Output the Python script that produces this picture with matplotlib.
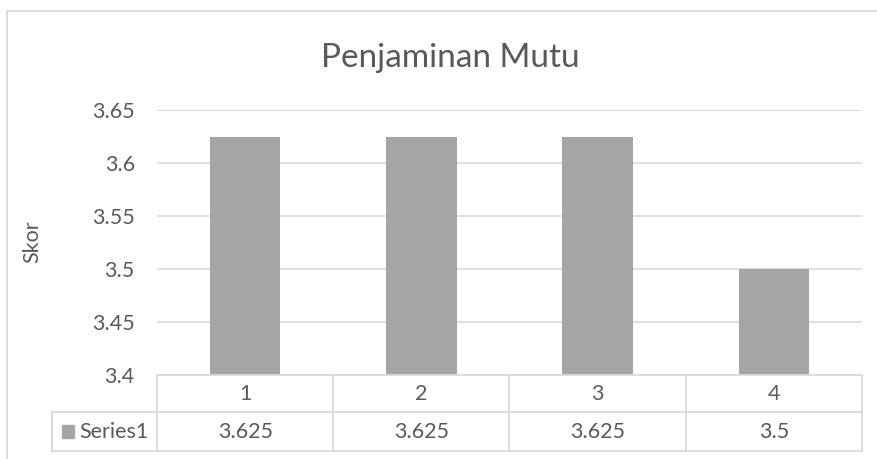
import matplotlib.pyplot as plt
from matplotlib.lines import Line2D

kategori = ['1', '2', '3', '4']
skor = [3.625, 3.625, 3.625, 3.5]
label_seri = 'Series1'
yticks = [3.4, 3.45, 3.5, 3.55, 3.6, 3.65]
ytick_label = ['3.4', '3.45', '3.5', '3.55', '3.6', '3.65']

plt.rcParams['font.family'] = ['Lato', 'DejaVu Sans']

W, H = 878, 459
fig = plt.figure(figsize=(W / 100, H / 100), dpi=100)

# plot area in pixels
kiri, kanan, atas, bawah = 157, 862, 110, 375
ax = fig.add_axes([kiri / W, 1 - bawah / H, (kanan - kiri) / W, (bawah - atas) / H])

abu = '#d9d9d9'
teks = '#595959'
ukuran = 15.5

x = range(len(kategori))
ax.bar(x, skor, width=0.4, color='#a5a5a5', zorder=3)
ax.set_xlim(-0.5, len(kategori) - 0.5)
ax.set_ylim(3.4, 3.65)
ax.set_yticks(yticks)
ax.set_yticklabels(ytick_label, fontsize=ukuran, color=teks)
ax.set_xticks([])
ax.tick_params(axis='y', length=0, pad=16)
ax.grid(axis='y', color=abu, linewidth=1.2, zorder=0)
for s in ax.spines.values():
    s.set_visible(False)


def px(xp, yp):
    return xp / W, 1 - yp / H


fig.text(*px(32, 242), 'Skor', fontsize=ukuran, color=teks, rotation=90,
         ha='center', va='center')
fig.text(*px(450, 58), 'Penjaminan Mutu', fontsize=24, color=teks,
         ha='center', va='center')


def garis(x0, y0, x1, y1):
    a, b = px(x0, y0)
    c, d = px(x1, y1)
    fig.add_artist(Line2D([a, c], [b, d], color=abu, linewidth=1.3))


# outer chart border
garis(7, 11, W, 11)
garis(7, 11, 7, H)

# data table
baris1, baris2, baris3 = 375, 412, 451
kiri_tabel = 52
lebar = (kanan - kiri) / len(kategori)
garis(kiri, baris1, kanan, baris1)
garis(kiri_tabel, baris2, kanan, baris2)
garis(kiri_tabel, baris3, kanan, baris3)
garis(kiri_tabel, baris2, kiri_tabel, baris3)
for i in range(len(kategori) + 1):
    xx = kiri + i * lebar
    garis(xx, baris1, xx, baris3)

for i, (k, v) in enumerate(zip(kategori, skor)):
    cx = kiri + (i + 0.5) * lebar
    fig.text(*px(cx, (baris1 + baris2) / 2), k, fontsize=ukuran, color=teks,
             ha='center', va='center')
    fig.text(*px(cx, (baris2 + baris3) / 2), f'{v:g}', fontsize=ukuran, color=teks,
             ha='center', va='center')

# legend key inside table
a, b = px(62, 438)
fig.add_artist(plt.Rectangle((a, b), 12 / W, 13 / H, color='#a5a5a5',
                             transform=fig.transFigure))
fig.text(*px(79, (baris2 + baris3) / 2), label_seri, fontsize=ukuran, color=teks,
         ha='left', va='center')

fig.savefig('out.png', dpi=100)
